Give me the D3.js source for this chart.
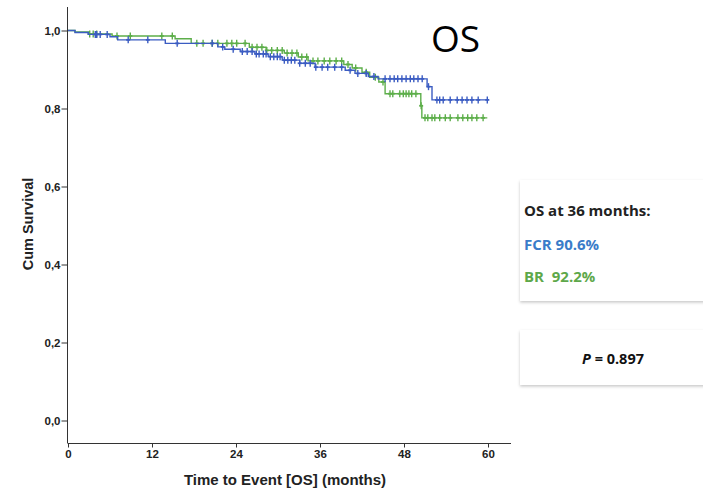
<!DOCTYPE html>
<html>
<head>
<meta charset="utf-8">
<script src="https://cdn.jsdelivr.net/npm/d3@7"></script>
<style>
  html, body { margin: 0; padding: 0; background: #fff; }
  svg { display: block; }
</style>
</head>
<body>
<svg id="chart" width="703" height="490"></svg>
<script>
// Kaplan-Meier overall survival, FCR vs BR
const xTicks = [0, 12, 24, 36, 48, 60];
const yTicks = [0, 0.2, 0.4, 0.6, 0.8, 1.0];

// FCR: event times (months) and survival after each event
const fcrTimes = [1.0, 2.9, 6.0, 7.1, 13.9, 21.4, 22.4, 24.6, 26.7, 28.6, 30.6, 33.1, 35.3, 39.6, 41.0, 42.9, 44.3, 51.3, 52.0];
const fcrSurv  = [0.995, 0.990, 0.984, 0.976, 0.967, 0.958, 0.952, 0.946, 0.940, 0.933, 0.924, 0.916, 0.906, 0.898, 0.890, 0.882, 0.876, 0.856, 0.822];
const fcrCensor = [3.9, 4.1, 4.6, 5.6, 8.6, 11.4, 15.6, 20.6, 22.1, 23.6, 24.9, 25.6,
  26.3, 26.9, 27.3, 27.9, 28.3, 28.9, 29.4, 29.9, 30.3, 30.9, 31.4, 31.9, 32.4, 33.1, 33.9, 34.6, 35.4,
  36.3, 37.1, 38.1, 39.1, 40.3, 41.4, 42.6, 43.7,
  45.3, 46.0, 46.6, 47.1, 47.7, 48.3, 48.9, 49.4, 50.0, 50.6, 51.5,
  52.7, 53.1, 53.6, 54.6, 55.6, 56.3, 57.0, 57.7, 58.6, 59.9];
const fcrEnd = 60;

// BR: event times (months) and survival after each event
const brTimes = [1.0, 2.9, 6.3, 15.3, 17.6, 25.9, 28.3, 30.9, 32.9, 34.3, 39.4, 40.6, 42.0, 43.1, 44.4, 45.3, 50.4, 50.55];
const brSurv  = [0.996, 0.991, 0.986, 0.979, 0.967, 0.957, 0.949, 0.942, 0.932, 0.922, 0.913, 0.904, 0.893, 0.880, 0.868, 0.838, 0.807, 0.776];
const brCensor = [3.1, 3.6, 4.1, 7.0, 8.9, 13.4, 14.9, 18.4, 19.3, 20.6, 21.4, 22.7, 23.4, 24.1, 25.3,
  26.3, 27.0, 27.7, 28.4, 29.1, 29.9, 30.6, 31.3, 32.0, 32.7, 33.4, 34.1, 35.0, 35.7, 36.6, 37.4, 38.3,
  39.1, 40.0, 41.1, 42.6, 43.9, 45.0,
  46.0, 46.4, 47.4, 47.9, 48.3, 48.7, 49.1, 49.7, 50.45,
  51.0, 51.4, 52.0, 52.4, 53.1, 53.9, 54.6, 55.7, 56.4, 57.1, 57.7, 58.4, 59.3];
const brEnd = 59.9;

const fcrColor = "#3b5cc2";
const brColor = "#5dae4a";

const svg = d3.select("#chart");

const x = d3.scaleLinear().domain([0, 60]).range([68, 488]);
const y = d3.scaleLinear().domain([0, 1]).range([420.5, 30.5]);
const axisY = 443;

// axes
const axisColor = "#333";
svg.append("line")
  .attr("x1", 67.5).attr("x2", 67.5).attr("y1", 7).attr("y2", axisY)
  .attr("stroke", axisColor).attr("stroke-width", 1);
svg.append("line")
  .attr("x1", 67.5).attr("x2", 511).attr("y1", axisY + 0.5).attr("y2", axisY + 0.5)
  .attr("stroke", axisColor).attr("stroke-width", 1);

const yAxis = svg.append("g")
  .attr("transform", "translate(67.5,0)")
  .call(d3.axisLeft(y).tickValues(yTicks).tickSize(6).tickPadding(1)
    .tickFormat(d => d.toFixed(1).replace(".", ",")));
yAxis.select(".domain").remove();

const xAxis = svg.append("g")
  .attr("transform", `translate(0,${axisY + 0.5})`)
  .call(d3.axisBottom(x).tickValues(xTicks).tickSize(4).tickPadding(2));
xAxis.select(".domain").remove();

[yAxis, xAxis].forEach(g => {
  g.selectAll(".tick line").attr("stroke", axisColor);
  g.selectAll(".tick text")
    .attr("fill", "#222")
    .style("font-family", "'Liberation Sans', Arial, sans-serif")
    .style("font-weight", "bold")
    .style("font-size", "11.5px");
});

svg.append("text")
  .attr("x", 285).attr("y", 485)
  .attr("text-anchor", "middle")
  .style("font-family", "'Liberation Sans', Arial, sans-serif")
  .style("font-weight", "bold").style("font-size", "15px")
  .attr("fill", "#222")
  .text("Time to Event [OS] (months)");

svg.append("text")
  .attr("transform", "translate(33,224) rotate(-90)")
  .attr("text-anchor", "middle")
  .style("font-family", "'Liberation Sans', Arial, sans-serif")
  .style("font-weight", "bold").style("font-size", "14.5px")
  .attr("fill", "#222")
  .text("Cum Survival");

// survival curves
function stepPoints(times, surv, end) {
  const pts = [[0, 1]];
  times.forEach((t, i) => pts.push([t, surv[i]]));
  pts.push([end, surv[surv.length - 1]]);
  return pts;
}
function survAt(times, surv, t) {
  let s = 1;
  times.forEach((tt, i) => { if (tt <= t) s = surv[i]; });
  return s;
}

const line = d3.line().x(d => x(d[0])).y(d => y(d[1])).curve(d3.curveStepAfter);

function drawSeries(times, surv, censor, end, color) {
  const g = svg.append("g");
  g.append("path")
    .datum(stepPoints(times, surv, end))
    .attr("d", line)
    .attr("fill", "none")
    .attr("stroke", color)
    .attr("stroke-width", 1.4);
  const marks = g.selectAll(".cens").data(censor).join("g")
    .attr("transform", d => `translate(${x(d)},${y(survAt(times, surv, d))})`);
  marks.append("line").attr("x1", 0).attr("x2", 0).attr("y1", -3.5).attr("y2", 3.5)
    .attr("stroke", color).attr("stroke-width", 1.4);
  marks.append("line").attr("x1", -2).attr("x2", 2).attr("y1", 0).attr("y2", 0)
    .attr("stroke", color).attr("stroke-width", 1.8);
}

drawSeries(brTimes, brSurv, brCensor, brEnd, brColor);
drawSeries(fcrTimes, fcrSurv, fcrCensor, fcrEnd, fcrColor);

// title
svg.append("text")
  .attr("x", 431).attr("y", 52)
  .style("font-family", "'Open Sans', sans-serif")
  .style("font-size", "37px")
  .attr("fill", "#000")
  .text("OS");

// annotation boxes
const defs = svg.append("defs");
defs.append("filter").attr("id", "shadow")
  .attr("x", "-10%").attr("y", "-10%").attr("width", "130%").attr("height", "140%")
  .append("feDropShadow")
  .attr("dx", 0).attr("dy", 1.5).attr("stdDeviation", 1.5)
  .attr("flood-color", "#000").attr("flood-opacity", 0.22);

const boxFont = "'Open Sans', 'Noto Sans', sans-serif";
svg.append("rect")
  .attr("x", 520).attr("y", 180).attr("width", 200).attr("height", 121)
  .attr("fill", "#fff").attr("filter", "url(#shadow)");
svg.append("rect")
  .attr("x", 520).attr("y", 330).attr("width", 200).attr("height", 55)
  .attr("fill", "#fff").attr("filter", "url(#shadow)");

const boxLines = [
  { text: "OS at 36 months:", color: "#222", y: 216 },
  { text: "FCR 90.6%", color: "#3a7cc9", y: 250 },
  { text: "BR  92.2%", color: "#5ea84a", y: 282 }
];
svg.selectAll(".boxline").data(boxLines).join("text")
  .attr("x", 524).attr("y", d => d.y)
  .attr("fill", d => d.color)
  .style("font-family", boxFont).style("font-weight", "bold").style("font-size", "15px")
  .style("white-space", "pre")
  .text(d => d.text);

const pText = svg.append("text")
  .attr("x", 613).attr("y", 364)
  .attr("text-anchor", "middle")
  .style("font-family", boxFont).style("font-weight", "bold").style("font-size", "14.5px")
  .attr("fill", "#111");
pText.append("tspan").style("font-style", "italic").text("P");
pText.append("tspan").text(" = 0.897");
</script>
</body>
</html>
